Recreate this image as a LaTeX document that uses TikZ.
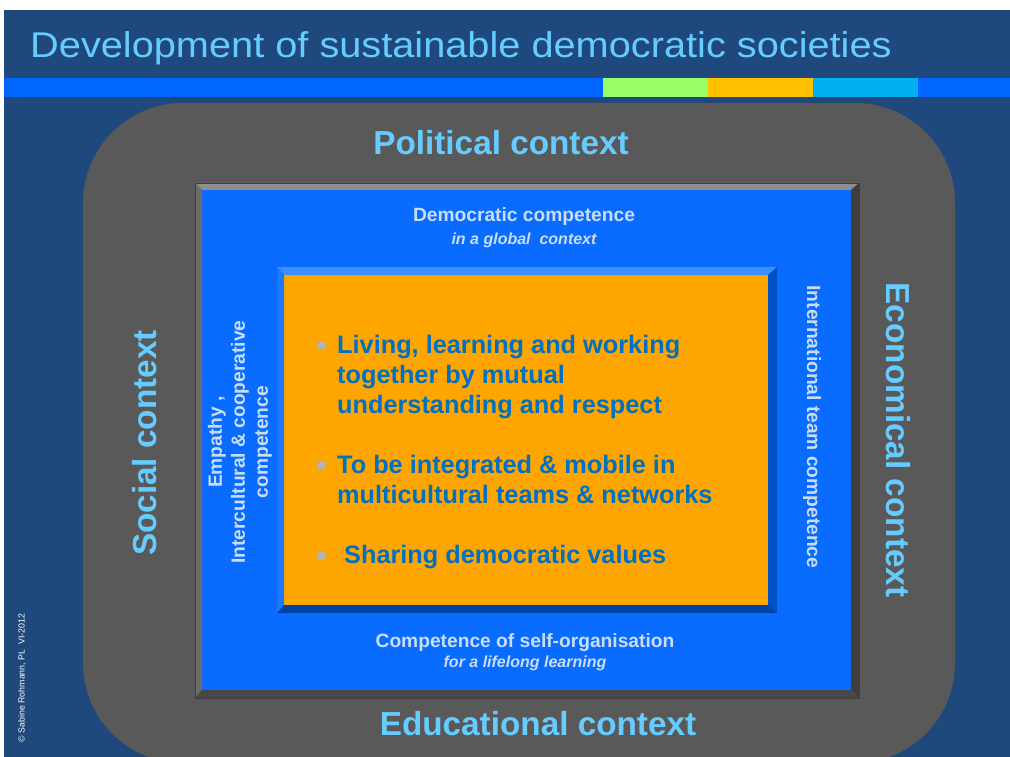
\documentclass[tikz,border=0pt]{standalone}
\usepackage{fontspec}
\setmainfont{Liberation Sans}
\definecolor{bgblue}{HTML}{1F497D}
\definecolor{lightcyan}{HTML}{66CCFF}
\definecolor{barblue}{HTML}{0066FF}
\definecolor{bargreen}{HTML}{99FF66}
\definecolor{barorange}{HTML}{FFC000}
\definecolor{barcyan}{HTML}{00B0F0}
\definecolor{ctxgray}{HTML}{595959}
\definecolor{midblue}{HTML}{0A6CFF}
\definecolor{orangefill}{HTML}{FFA500}
\definecolor{paletext}{HTML}{C9DDF8}
\definecolor{bullettext}{HTML}{0070C0}
\definecolor{bulletgray}{HTML}{B4B4B4}
\definecolor{bevtop}{HTML}{8E8E8E}
\definecolor{bevleft}{HTML}{6C6C6C}
\definecolor{bevright}{HTML}{3E3E3E}
\definecolor{bevbottom}{HTML}{484848}
\definecolor{obevtop}{HTML}{3D8FFF}
\definecolor{obevleft}{HTML}{1C78FF}
\definecolor{obevright}{HTML}{0050C8}
\definecolor{obevbottom}{HTML}{0042A6}
\tikzset{
  ctx/.style={font=\fontsize{33.3}{38}\selectfont\bfseries, text=lightcyan, inner sep=0pt},
  comp/.style={font=\fontsize{19.2}{23}\selectfont\bfseries, text=paletext, inner sep=0pt, align=center},
  compit/.style={font=\fontsize{16}{20}\selectfont\bfseries\itshape, text=paletext, inner sep=0pt},
  bul/.style={font=\fontsize{25.3}{30}\selectfont\bfseries, text=bullettext, inner sep=0pt, anchor=base west},
  bsq/.style={fill=bulletgray}
}
\begin{document}
\begin{tikzpicture}[x=1pt,y=-1pt]
\useasboundingbox (0,0) rectangle (1010,757);
\fill[white] (0,0) rectangle (1010,757);
\fill[bgblue] (4,10) rectangle (1010,757);
% title
\node[anchor=base west, inner sep=0pt, text=lightcyan, xscale=1.11, font=\fontsize{35.8}{42}\selectfont] (title) at (30,58) {Development of sustainable democratic societies};
% bar
\fill[barblue] (4,78) rectangle (1010,97);
\fill[bargreen] (603,78) rectangle (708,97);
\fill[barorange] (708,78) rectangle (813,97);
\fill[barcyan] (813,78) rectangle (918,97);
% grey context box
\begin{scope}
\clip (4,10) rectangle (1010,757);
\fill[ctxgray, rounded corners=100pt] (83,103) rectangle (955,763);
\end{scope}
% bevelled blue frame
\fill[midblue] (202,190) rectangle (851,690);
\fill[bevtop] (195,183) -- (859,183) -- (851,190) -- (202,190) -- cycle;
\fill[bevleft] (195,183) -- (202,190) -- (202,690) -- (195,698) -- cycle;
\fill[bevright] (859,183) -- (859,698) -- (851,690) -- (851,190) -- cycle;
\fill[bevbottom] (195,698) -- (859,698) -- (851,690) -- (202,690) -- cycle;
\draw[bevright, line width=0.8pt] (195,183) rectangle (859,698);
% bevelled orange box
\fill[orangefill] (284,275) rectangle (768,605);
\fill[obevtop] (277,267) -- (777,267) -- (768,275) -- (284,275) -- cycle;
\fill[obevleft] (277,267) -- (284,275) -- (284,605) -- (277,613) -- cycle;
\fill[obevright] (777,267) -- (777,613) -- (768,605) -- (768,275) -- cycle;
\fill[obevbottom] (277,613) -- (777,613) -- (768,605) -- (284,605) -- cycle;
% context labels
\node[ctx, anchor=base] (political) at (501,155) {Political context};
\node[ctx, anchor=base] (educational) at (538,735) {Educational context};
\node[ctx, rotate=90] (social) at (145,443) {Social context};
\node[ctx, rotate=-90] (economical) at (898,440) {Economical context};
% competences
\node[comp, anchor=base] (democ) at (524,222) {Democratic competence};
\node[compit, anchor=base] (democit) at (524,244) {in a global \ context};
\node[comp, anchor=base] (selforg) at (525,647) {Competence of self-organisation};
\node[compit, anchor=base] (selforgit) at (525,667) {for a lifelong learning};
\node[comp, rotate=90] (empathy) at (240,442) {Empathy ,\\Intercultural \& cooperative\\competence};
\node[comp, rotate=-90] (intl) at (812,427) {International team competence};
% bullets
\fill[bsq] (318,342) rectangle (325,349);
\node[bul] (b1a) at (337,353) {Living, learning and working};
\node[bul] (b1b) at (337,383) {together by mutual};
\node[bul] (b1c) at (337,413) {understanding and respect};
\fill[bsq] (318,462) rectangle (325,469);
\node[bul] (b2a) at (337,473) {To be integrated \& mobile in};
\node[bul] (b2b) at (337,503) {multicultural teams \& networks};
\fill[bsq] (318,552) rectangle (325,559);
\node[bul] (b3a) at (344,563) {Sharing democratic values};
% copyright
\node[rotate=90, inner sep=0pt, text=white, font=\fontsize{8.8}{10}\selectfont] (copy) at (22,678) {\textcopyright\ Sabine Rohmann, PL \ VI-2012};
\end{tikzpicture}
\end{document}
